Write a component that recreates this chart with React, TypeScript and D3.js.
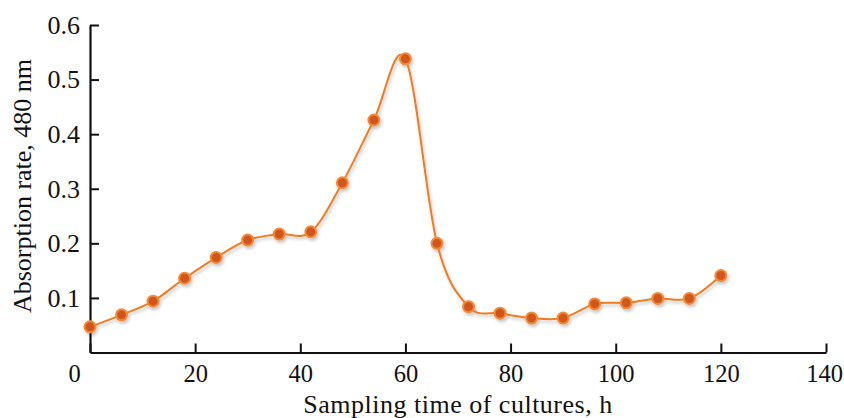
import { useEffect, useRef } from 'react'
import * as d3 from 'd3'

const hours = [0, 6, 12, 18, 24, 30, 36, 42, 48, 54, 60, 66, 72, 78, 84, 90, 96, 102, 108, 114, 120]
const absorption = [0.047, 0.069, 0.094, 0.136, 0.174, 0.206, 0.217, 0.221, 0.311, 0.426, 0.538, 0.200, 0.084, 0.072, 0.063, 0.063, 0.089, 0.091, 0.099, 0.099, 0.141]
const xTicks = [0, 20, 40, 60, 80, 100, 120, 140]
const yTicks = [0.1, 0.2, 0.3, 0.4, 0.5, 0.6]

export default function AbsorptionChart() {
  const containerRef = useRef<HTMLDivElement>(null)

  useEffect(() => {
    if (!containerRef.current) return
    document.body.style.margin = '0'
    const container = containerRef.current
    container.innerHTML = ''

    const width = 844
    const height = 418
    const font = '"Liberation Serif", "Times New Roman", serif'

    const svg = d3.select(container)
      .append('svg')
      .attr('width', width)
      .attr('height', height)
      .style('display', 'block')
      .style('background', '#fff')

    const x = d3.scaleLinear().domain([0, 140]).range([90, 826])
    const y = d3.scaleLinear().domain([0, 0.6]).range([352.5, 25])

    const defs = svg.append('defs')
    const f = defs.append('filter').attr('id', 'shadow')
      .attr('x', '-10%').attr('y', '-10%').attr('width', '120%').attr('height', '130%')
    f.append('feDropShadow')
      .attr('dx', 1.5).attr('dy', 2.5).attr('stdDeviation', 1.5)
      .attr('flood-color', '#000').attr('flood-opacity', 0.22)

    // x axis
    const xAxis = svg.append('g')
      .attr('transform', `translate(0,${y(0)})`)
      .call(d3.axisBottom(x).tickValues(xTicks).tickFormat(d3.format('d')).tickSize(-9).tickSizeOuter(0).tickPadding(12.5))
    xAxis.select('.domain').attr('stroke', '#111').attr('stroke-width', 2.2)
    xAxis.selectAll('.tick line').attr('stroke', '#111').attr('stroke-width', 2)
    xAxis.selectAll('.tick text')
      .style('font-family', font).style('font-size', '24.5px').attr('fill', '#111')
    // the 0 label sits left of the corner, 140 is kept inside the frame
    xAxis.selectAll<SVGTextElement, number>('.tick text').filter(d => d === 0).attr('x', -16)
    xAxis.selectAll<SVGTextElement, number>('.tick text').filter(d => d === 140).attr('x', -2)

    // y axis
    const yAxis = svg.append('g')
      .attr('transform', `translate(${x(0)},0)`)
      .call(d3.axisLeft(y).tickValues(yTicks).tickFormat(d3.format('.1f')).tickSize(-9).tickSizeOuter(0).tickPadding(10))
    yAxis.select('.domain').attr('stroke', '#111').attr('stroke-width', 2.2)
    yAxis.selectAll('.tick line').attr('stroke', '#111').attr('stroke-width', 2)
    yAxis.selectAll('.tick text')
      .style('font-family', font).style('font-size', '26px').attr('fill', '#111')

    // axis titles
    svg.append('text')
      .attr('x', 458).attr('y', 413)
      .attr('text-anchor', 'middle')
      .style('font-family', font).style('font-size', '26px').style('letter-spacing', '0.5px').attr('fill', '#111')
      .text('Sampling time of cultures, h')

    svg.append('text')
      .attr('transform', 'translate(31,186) rotate(-90)')
      .attr('text-anchor', 'middle')
      .style('font-family', font).style('font-size', '26px').attr('fill', '#111')
      .text('Absorption rate, 480 nm')

    // smoothed series
    const pts: [number, number][] = hours.map((h, i) => [h, absorption[i]])
    const line = d3.line<[number, number]>()
      .x(d => x(d[0]))
      .y(d => y(d[1]))
      .curve(d3.curveCardinal.tension(0))

    const g = svg.append('g').attr('filter', 'url(#shadow)')
    g.append('path')
      .datum(pts)
      .attr('d', line)
      .attr('fill', 'none')
      .attr('stroke', '#f07c22')
      .attr('stroke-width', 2)

    g.selectAll('circle')
      .data(pts)
      .join('circle')
      .attr('cx', d => x(d[0]))
      .attr('cy', d => y(d[1]))
      .attr('r', 5.5)
      .attr('fill', '#d2561a')
      .attr('stroke', '#f38a35')
      .attr('stroke-width', 2)

    return () => { container.innerHTML = '' }
  }, [])

  return <div ref={containerRef} />
}
